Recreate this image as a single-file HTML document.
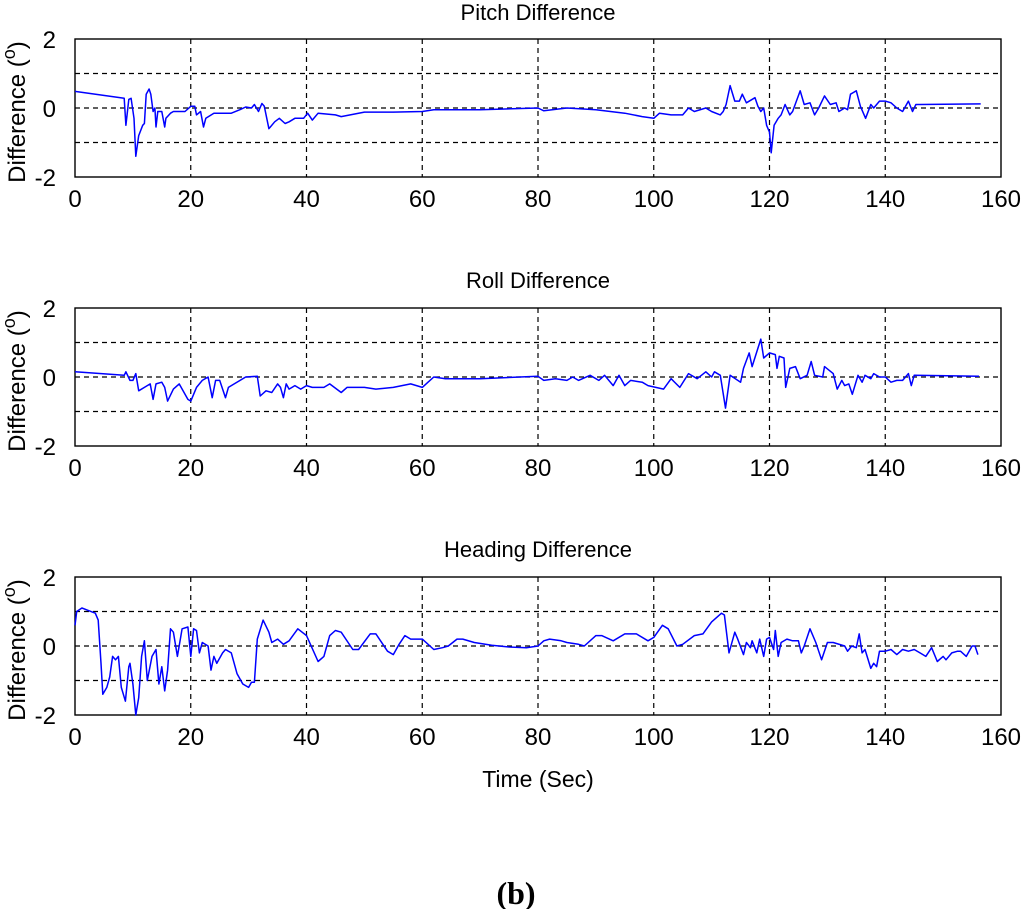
<!DOCTYPE html>
<html><head><meta charset="utf-8"><style>
html,body{margin:0;padding:0;background:#fff;}
svg{display:block;font-family:"Liberation Sans",Arial,sans-serif;}
</style></head><body>
<svg id="fig" width="1024" height="909" viewBox="0 0 1024 909" xmlns="http://www.w3.org/2000/svg">
<text x="538" y="20" font-size="22" text-anchor="middle">Pitch Difference</text>
<text x="538" y="288" font-size="22" text-anchor="middle">Roll Difference</text>
<text x="538" y="557" font-size="22" text-anchor="middle">Heading Difference</text>
<text x="538" y="787" font-size="23" text-anchor="middle">Time (Sec)</text>
<text x="516" y="904" font-size="32" font-weight="bold" text-anchor="middle" font-family="Liberation Serif, serif">(b)</text>
</svg>
<script>
const xTicks = [0,20,40,60,80,100,120,140,160];
const yTicks = [-2,-1,0,1,2];
const yTickLabels = ["-2","","0","","2"];
const pitchT = [0,8.5,8.8,9.3,9.7,10.2,10.5,11,11.7,12,12.3,12.8,13.1,13.5,13.8,14,14.3,15,15.5,15.7,16.5,17,19,20,20.7,21,21.7,22.2,22.6,24,27,28.5,29.5,30.5,31,31.7,32.3,32.7,33.5,34.5,35.3,36.3,37,38,39.5,40.2,41,42,45,46,50,55,60,62,70,80,81,85,90,95,98,100,101,103,105,106,107,109,110,111.5,112,112.5,113.2,114,114.8,115.3,116,117.5,118,118.5,119,119.5,120,120.3,120.8,121.5,122,122.7,123.5,124,125.3,126,127,127.8,128.5,129.5,130.5,131.5,132,133,133.5,134,134.5,135,135.7,136.6,137.5,138,139,140,141,142,143,144,144.7,145.3,146,156.5];
const pitchV = [0.48,0.28,-0.5,0.25,0.28,-0.3,-1.4,-0.8,-0.5,-0.45,0.4,0.55,0.4,-0.1,0,-0.55,-0.1,-0.1,-0.55,-0.3,-0.15,-0.1,-0.1,0.05,0.05,-0.2,-0.1,-0.55,-0.3,-0.15,-0.15,-0.05,0.03,0,0.1,-0.1,0.13,0.05,-0.6,-0.4,-0.3,-0.45,-0.4,-0.3,-0.3,-0.15,-0.35,-0.15,-0.2,-0.25,-0.12,-0.12,-0.1,-0.05,-0.05,0,-0.08,0,-0.05,-0.15,-0.25,-0.3,-0.15,-0.2,-0.2,0,-0.1,0,-0.1,-0.2,-0.1,0.1,0.65,0.2,0.2,0.4,0.15,0.3,0.05,-0.1,0,-0.5,-0.7,-1.3,-0.5,-0.3,-0.2,0.1,-0.2,-0.1,0.5,0.1,0.15,-0.2,0,0.35,0.1,0.15,-0.1,0,-0.05,0.4,0.45,0.5,0.05,-0.3,0.1,0,0.2,0.2,0.15,0,-0.1,0.2,-0.1,0.1,0.1,0.12];
const rollT = [0,8.5,8.8,9.5,10,10.5,11,12,13,13.5,14,15,15.5,16,17,18,19.5,20,21,22,23,23.7,24.3,25,26,26.5,27.5,29.5,31.5,32,33,34,35,35.5,36,36.5,37,38,39,40,41,43,44,46,47,50,52,55,58,60,61,62,64,70,80,81,83,85,86,87,89,90.5,91.5,93,94,95,96,98,99,101.7,103,104.5,106,107.5,109,110,110.5,111.5,112.4,113.2,115,115.5,116.5,117,118.5,119,120,121,121.3,121.7,122.5,122.8,123.5,124.5,125.3,126.5,127.2,127.8,129.2,129.5,131,131.7,132.5,133,133.7,134.3,135.3,136,136.5,137.5,138,139,140,141,142,143,144,144.5,145,156.2];
const rollV = [0.15,0.05,0.15,-0.1,-0.1,0.1,-0.4,-0.3,-0.2,-0.65,-0.2,-0.15,-0.3,-0.7,-0.35,-0.2,-0.65,-0.7,-0.3,-0.1,0,-0.6,-0.1,-0.1,-0.6,-0.3,-0.2,0,0.02,-0.55,-0.4,-0.45,-0.2,-0.3,-0.6,-0.2,-0.35,-0.25,-0.35,-0.25,-0.3,-0.3,-0.2,-0.45,-0.3,-0.3,-0.35,-0.3,-0.2,-0.3,-0.15,0,-0.05,-0.05,0.02,-0.1,-0.05,-0.1,0,-0.1,0.05,-0.1,0.05,-0.25,0.05,-0.25,-0.1,-0.15,-0.25,-0.35,-0.05,-0.3,0.1,-0.05,0.15,0,0.15,0.05,-0.9,0.05,-0.15,0.25,0.7,0.3,1.1,0.55,0.7,0.65,0.25,0.6,0.55,-0.3,0.25,0.3,-0.05,0.05,0.45,0.05,0,0.3,0.1,-0.35,-0.1,-0.25,-0.2,-0.5,0.05,-0.15,0.05,-0.05,0.1,0,0,-0.15,-0.1,-0.1,0.1,-0.25,0.05,0.02];
const headT = [0,0.3,1.2,2,3.5,4,4.5,4.8,5.5,6,6.5,7,7.5,8,8.7,9.3,9.5,10,10.5,11,11.5,12,12.5,13.3,14,14.5,15,15.5,16,16.5,17,17.7,18.5,19.5,20,20.5,21,21.5,22,23,23.5,24,24.5,25.5,26,27,28,29,30,30.5,31,31.5,32.5,33.5,34,35,36,37,38.5,40,42,43,44,45,46,48,49,51,52,54,55,56,57,58,60,62,63.5,64.5,66,67,69,72,75,78,80,81,82,84,85,87,88,90,91,93,95,97,99,100,101.5,102.5,104,105,107,108.5,110,111.7,112.2,113,114,114.5,115.5,116,116.7,117,117.8,118.3,119,119.5,120,120.7,121,121.5,122,123,124,125,125.5,126,127,128,128.5,129,130,131,133,133.5,134.2,135,135.5,136,136.5,137.5,138,138.5,139,140,141,142,143,144,145,146,147,148,149,150,150.5,151.5,152.5,153,154,155,155.5,156];
const headV = [0.6,1.0,1.1,1.05,0.95,0.75,-0.5,-1.4,-1.2,-0.9,-0.3,-0.4,-0.3,-1.2,-1.6,-0.6,-0.5,-1.1,-2.0,-1.5,-0.3,0.15,-1.0,-0.3,-0.1,-1.1,-0.6,-1.3,-0.7,0.5,0.4,-0.3,0.5,0.55,-0.3,0.5,0.45,-0.2,0.1,0,-0.7,-0.3,-0.5,-0.2,-0.1,-0.2,-0.8,-1.1,-1.2,-1.05,-1.05,0.2,0.75,0.4,0.1,0.2,0.05,0.15,0.5,0.3,-0.45,-0.3,0.3,0.45,0.4,-0.1,-0.1,0.35,0.35,-0.15,-0.25,0.05,0.3,0.2,0.2,-0.1,-0.05,0,0.2,0.2,0.1,0.02,-0.03,-0.05,0,0.15,0.2,0.15,0.1,0.05,0,0.3,0.3,0.15,0.35,0.35,0.15,0.25,0.6,0.5,0,0.05,0.3,0.35,0.7,0.95,0.9,-0.2,0.4,0.2,-0.25,0.1,-0.05,0.15,-0.2,0.2,-0.3,0.2,0.25,-0.1,0.45,-0.3,0.1,0.2,0.15,0.15,-0.2,0,0.5,0.1,-0.15,-0.4,0.1,0.1,0,-0.15,0,-0.05,0.35,-0.2,-0.1,-0.65,-0.5,-0.6,-0.15,-0.15,-0.1,-0.25,-0.1,-0.15,-0.1,-0.2,-0.3,-0.05,-0.45,-0.3,-0.4,-0.2,-0.15,-0.15,-0.3,0,0,-0.25];

const NS = "http://www.w3.org/2000/svg";
const svg = document.getElementById('fig');
const X0 = 75, X1 = 1001;
function xs(t){ return X0 + (t - 0) / 160 * (X1 - X0); }
function mk(tag, attrs, parent){
  const e = document.createElementNS(NS, tag);
  for (const k in attrs) e.setAttribute(k, attrs[k]);
  (parent || svg).appendChild(e);
  return e;
}
function panel(name, top, T, V){
  const bot = top + 138;
  const ys = v => top + (2 - v) / 4 * (bot - top);
  const g = mk('g', {});
  
  
  xTicks.forEach(t => {
    if (t > 0 && t < 160) {
      const l = mk('line', {x1: xs(t), x2: xs(t), y1: top, y2: bot, stroke: '#000', 'stroke-width': 1.2, 'stroke-dasharray': '5,4'}, g);
      
      
    }
    const tx = mk('text', {x: xs(t), y: bot + 30, 'font-size': 24, 'text-anchor': 'middle'}, g);
    
    
    tx.textContent = String(t);
  });
  yTicks.forEach((v, i) => {
    if (v > -2 && v < 2) {
      const l = mk('line', {x1: X0, x2: X1, y1: ys(v), y2: ys(v), stroke: '#000', 'stroke-width': 1.2, 'stroke-dasharray': '5,4'}, g);
      
      
    }
    if (yTickLabels[i]) {
      const tx = mk('text', {x: 56, y: ys(v) + 9, 'font-size': 24, 'text-anchor': 'end'}, g);
      
      
      tx.textContent = yTickLabels[i];
    }
  });
  const fr = mk('rect', {x: X0, y: top, width: X1 - X0, height: bot - top, fill: 'none', stroke: '#000', 'stroke-width': 1.4}, g);
  
  
  const yl = mk('text', {transform: 'translate(25,' + ((top + bot) / 2 + 4) + ') rotate(-90)', 'font-size': 24, 'text-anchor': 'middle'}, g);
  
  
  yl.innerHTML = 'Difference (<tspan dy="-10" font-size="18">o</tspan><tspan dy="10">)</tspan>';
  let d = '';
  T.forEach((t, i) => { d += (i ? 'L' : 'M') + xs(t).toFixed(1) + ',' + ys(V[i]).toFixed(1); });
  const p = mk('path', {d: d, fill: 'none', stroke: '#0000ff', 'stroke-width': 1.5, 'stroke-linejoin': 'round'}, g);
  
  
}
panel('pitch', 39, pitchT, pitchV);
panel('roll', 308, rollT, rollV);
panel('heading', 577, headT, headV);
</script>
</body></html>
